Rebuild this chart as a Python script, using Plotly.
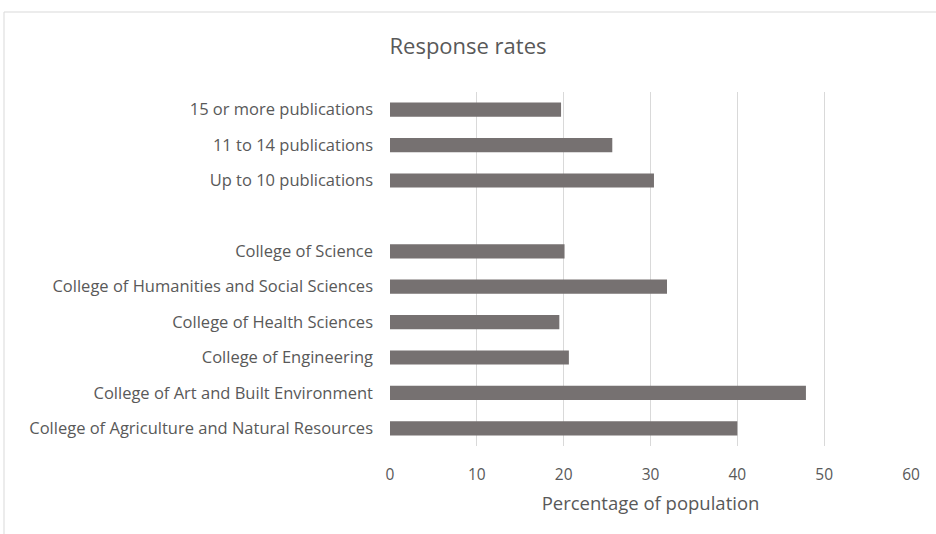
import plotly.graph_objects as go

# Response rate by group (percentage of population), listed bottom to top
categories = [
    "College of Agriculture and Natural Resources",
    "College of Art and Built Environment",
    "College of Engineering",
    "College of Health Sciences",
    "College of Humanities and Social Sciences",
    "College of Science",
    " ",
    "Up to 10 publications",
    "11 to 14 publications",
    "15 or more publications",
]
values = [40.0, 47.9, 20.6, 19.5, 31.9, 20.1, None, 30.4, 25.6, 19.7]
x_ticks = [0, 10, 20, 30, 40, 50, 60]

FONT = "Open Sans"
TEXT = "#595959"

fig = go.Figure(
    go.Bar(
        y=categories,
        x=values,
        orientation="h",
        width=0.4,
        marker=dict(color="#767171", line=dict(width=0)),
        hoverinfo="x+y",
    )
)

fig.update_layout(
    width=936,
    height=534,
    margin=dict(l=390, r=25, t=92, b=88),
    paper_bgcolor="white",
    plot_bgcolor="white",
    showlegend=False,
    title=dict(
        text="Response rates",
        x=0.5,
        xref="container",
        xanchor="center",
        y=1 - 46 / 534,
        yref="container",
        yanchor="middle",
        font=dict(family=FONT, size=22, color=TEXT),
    ),
    font=dict(family=FONT, size=15.5, color=TEXT),
    bargap=0.6,
)

fig.update_xaxes(
    range=[0, 60],
    tickvals=x_ticks,
    showgrid=True,
    gridcolor="#d9d9d9",
    gridwidth=1,
    zeroline=False,
    showline=False,
    ticks="",
    ticklabelstandoff=17,
    tickfont=dict(family=FONT, size=15.5, color=TEXT),
    title=dict(
        text="Percentage of population",
        font=dict(family=FONT, size=18.5, color=TEXT),
        standoff=13,
    ),
)

fig.update_yaxes(
    type="category",
    categoryorder="array",
    categoryarray=categories,
    range=[-0.5, len(categories) - 0.5],
    showgrid=False,
    zeroline=False,
    showline=False,
    ticks="",
    ticklabelstandoff=16,
    tickfont=dict(family=FONT, size=16.5, color=TEXT),
)

# Chart-area border
fig.add_shape(
    type="rect",
    xref="paper",
    yref="paper",
    x0=-386 / 521,
    x1=1 + 30 / 521,
    y0=-100 / 354,
    y1=1 + 80 / 354,
    line=dict(color="#d9d9d9", width=1),
    fillcolor="rgba(0,0,0,0)",
    layer="below",
)

fig.write_html("out.html")
